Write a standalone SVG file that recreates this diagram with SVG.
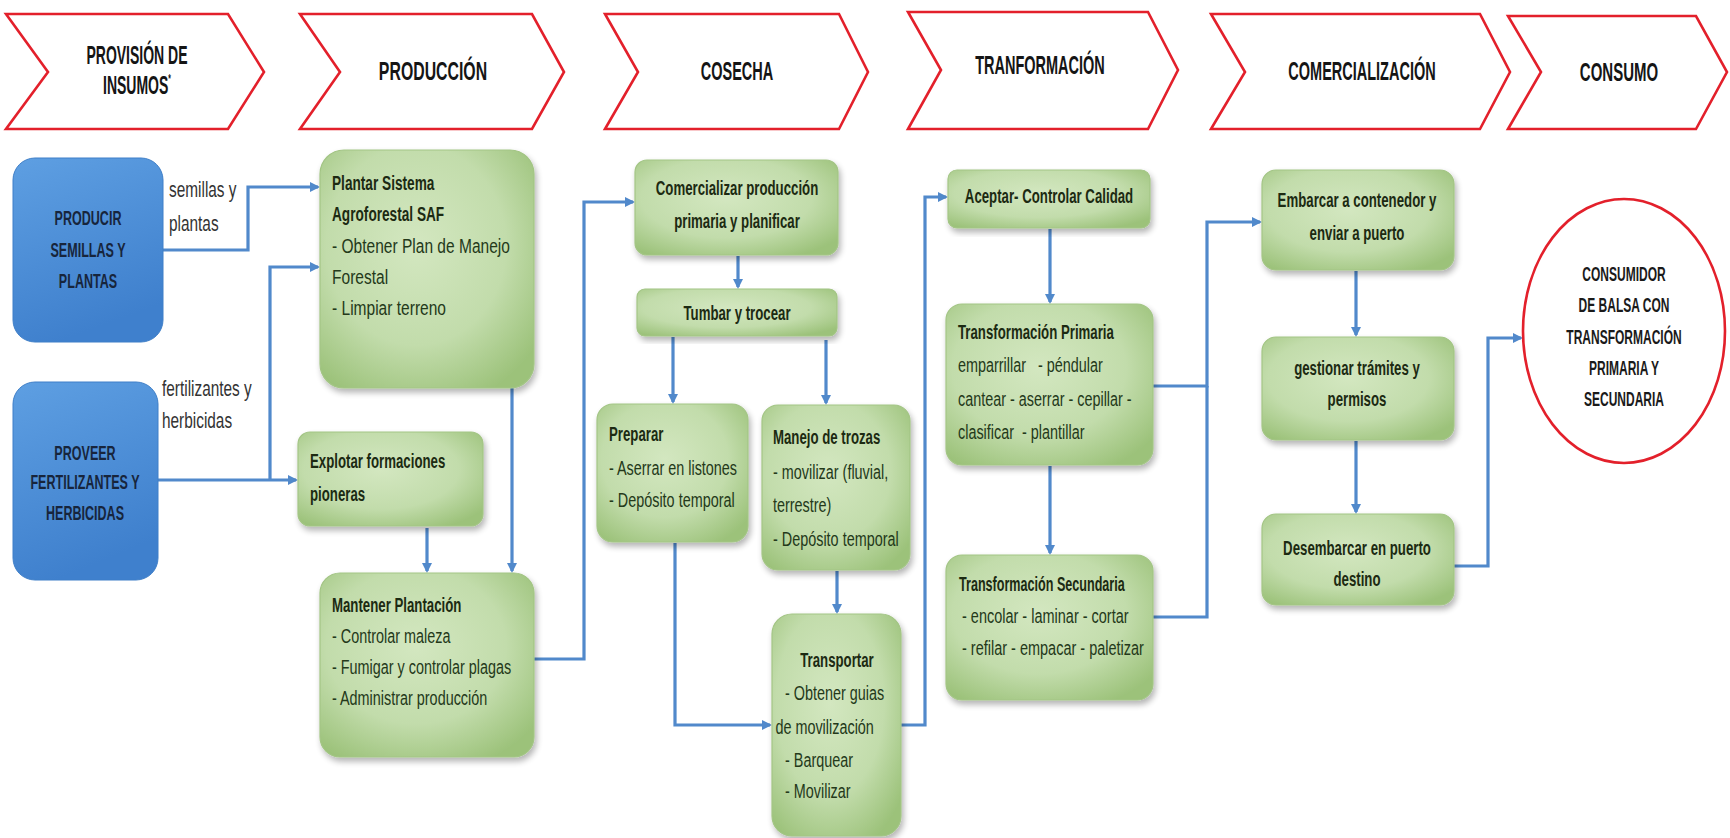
<svg xmlns="http://www.w3.org/2000/svg" width="1730" height="838" viewBox="0 0 1730 838">
  <defs>
    <style>
      text { font-family: "Liberation Sans", Arial, sans-serif; }
      .stage { fill: #ffffff; stroke: #e3202b; stroke-width: 2.6; stroke-linejoin: miter; }
      .h { font-size: 25px; font-weight: bold; fill: #151515; text-anchor: middle; }
      .box { fill: url(#green); stroke: #a3c585; stroke-width: 1.2; filter: url(#shadow); }
      .blue { fill: url(#blueFill); stroke: #3f7fc8; stroke-width: 1; }
      .bt { font-size: 21px; font-weight: bold; fill: #1c2a12; }
      .bd { font-size: 21px; fill: #24391a; }
      .c { text-anchor: middle; }
      .bl { font-size: 20px; font-weight: bold; fill: #17253c; text-anchor: middle; }
      .lb { font-size: 22px; fill: #333333; }
      .ct { font-size: 20px; font-weight: bold; fill: #1a1a1a; text-anchor: middle; }
      .wire { fill: none; stroke: #5189cb; stroke-width: 3.2; stroke-linejoin: miter; }
      .arr { marker-end: url(#tip); }
    </style>
    <radialGradient id="green" cx="45%" cy="40%" r="70%">
      <stop offset="0" stop-color="#d3e7c0"/>
      <stop offset="0.6" stop-color="#c2dcab"/>
      <stop offset="1" stop-color="#9cc27a"/>
    </radialGradient>
    <linearGradient id="blueFill" x1="0" y1="0" x2="0.3" y2="1">
      <stop offset="0" stop-color="#5e9fe2"/>
      <stop offset="1" stop-color="#3f80cd"/>
    </linearGradient>
    <filter id="shadow" x="-10%" y="-10%" width="125%" height="125%">
      <feGaussianBlur in="SourceAlpha" stdDeviation="3"/>
      <feOffset dx="2" dy="4" result="b"/>
      <feComponentTransfer><feFuncA type="linear" slope="0.3"/></feComponentTransfer>
      <feMerge><feMergeNode/><feMergeNode in="SourceGraphic"/></feMerge>
    </filter>
    <marker id="tip" markerWidth="10" markerHeight="10" refX="8" refY="5" orient="auto" markerUnits="userSpaceOnUse">
      <path d="M0,0 L10,5 L0,10 Z" fill="#5189cb"/>
    </marker>
  </defs>

  <rect width="1730" height="838" fill="#ffffff"/>

  <!-- value chain stages (chevrons) -->
  <g id="stage-provision">
    <polygon class="stage" points="6,14 228,14 264,72 228,129 6,129 48,72"/>
    <text class="h" transform="translate(137 0) scale(.56 1)"><tspan x="0" y="64">PROVISIÓN DE</tspan><tspan x="0" y="94">INSUMOS<tspan font-size="12" dy="-11">*</tspan></tspan></text>
  </g>
  <g id="stage-produccion">
    <polygon class="stage" points="300,14 532,14 564,72 532,129 300,129 340,72"/>
    <text class="h" transform="translate(433 0) scale(.634 1)"><tspan x="0" y="80">PRODUCCIÓN</tspan></text>
  </g>
  <g id="stage-cosecha">
    <polygon class="stage" points="605,14 839,14 868,72 839,129 605,129 638,72"/>
    <text class="h" transform="translate(737 0) scale(.58 1)"><tspan x="0" y="80">COSECHA</tspan></text>
  </g>
  <g id="stage-transformacion">
    <polygon class="stage" points="908,12 1148,12 1178,70 1148,129 908,129 941,70"/>
    <text class="h" transform="translate(1040 0) scale(.58 1)"><tspan x="0" y="74">TRANFORMACIÓN</tspan></text>
  </g>
  <g id="stage-comercializacion">
    <polygon class="stage" points="1211,14 1480,14 1510,72 1480,129 1211,129 1245,72"/>
    <text class="h" transform="translate(1362 0) scale(.58 1)"><tspan x="0" y="80">COMERCIALIZACIÓN</tspan></text>
  </g>
  <g id="stage-consumo">
    <polygon class="stage" points="1508,16 1696,16 1727,72 1696,129 1508,129 1541,72"/>
    <text class="h" transform="translate(1619 0) scale(.6 1)"><tspan x="0" y="81">CONSUMO</tspan></text>
  </g>

  <!-- connectors -->
  <g id="connectors">
    <path class="wire arr" d="M163,250 H248 V187 H318"/>
    <path class="wire arr" d="M158,480 H296"/>
    <path class="wire arr" d="M270,480 V267 H318"/>
    <path class="wire arr" d="M512,388 V571"/>
    <path class="wire arr" d="M427,528 V571"/>
    <path class="wire arr" d="M534,659 H584 V202 H633"/>
    <path class="wire arr" d="M738,256 V287"/>
    <path class="wire arr" d="M673,337 V402"/>
    <path class="wire arr" d="M826,340 V403"/>
    <path class="wire arr" d="M675,543 V725 H770"/>
    <path class="wire arr" d="M837,571 V612"/>
    <path class="wire arr" d="M901,725 H925 V197 H946"/>
    <path class="wire arr" d="M1050,229 V302"/>
    <path class="wire arr" d="M1050,466 V553"/>
    <path class="wire arr" d="M1153,386 H1207 V222 H1260"/>
    <path class="wire" d="M1153,617 H1207 V386"/>
    <path class="wire arr" d="M1356,271 V335"/>
    <path class="wire arr" d="M1356,441 V512"/>
    <path class="wire arr" d="M1454,566 H1488 V338 H1521"/>
    <text class="lb" transform="translate(169 0) scale(.7 1)"><tspan x="0" y="197">semillas y</tspan><tspan x="0" y="231">plantas</tspan></text>
    <text class="lb" transform="translate(162 0) scale(.7 1)"><tspan x="0" y="396">fertilizantes y</tspan><tspan x="0" y="428">herbicidas</tspan></text>
  </g>

  <!-- input providers -->
  <g id="producir-semillas">
    <rect class="blue" x="13" y="158" width="150" height="184" rx="22"/>
    <text class="bl" transform="translate(88 0) scale(.627 1)"><tspan x="0" y="225">PRODUCIR</tspan><tspan x="0" y="257">SEMILLAS Y</tspan><tspan x="0" y="288">PLANTAS</tspan></text>
  </g>
  <g id="proveer-fertilizantes">
    <rect class="blue" x="13" y="382" width="145" height="198" rx="22"/>
    <text class="bl" transform="translate(85 0) scale(.627 1)"><tspan x="0" y="460">PROVEER</tspan><tspan x="0" y="489">FERTILIZANTES Y</tspan><tspan x="0" y="520">HERBICIDAS</tspan></text>
  </g>

  <!-- production -->
  <g id="plantar-saf">
    <rect class="box" x="320" y="150" width="214" height="238" rx="24"/>
    <text class="bt" transform="translate(332 0) scale(.65 1)" font-size="23"><tspan x="0" y="190">Plantar Sistema</tspan><tspan x="0" y="221">Agroforestal SAF</tspan></text>
    <text class="bd" transform="translate(332 0) scale(.74 1)" font-size="23"><tspan x="0" y="253">- Obtener Plan de Manejo</tspan><tspan x="0" y="284">Forestal</tspan><tspan x="0" y="315">- Limpiar terreno</tspan></text>
  </g>
  <g id="explotar-pioneras">
    <rect class="box" x="298" y="432" width="185" height="94" rx="12"/>
    <text class="bt" transform="translate(310 0) scale(.63 1)"><tspan x="0" y="468">Explotar formaciones</tspan><tspan x="0" y="501">pioneras</tspan></text>
  </g>
  <g id="mantener-plantacion">
    <rect class="box" x="320" y="573" width="214" height="184" rx="20"/>
    <text class="bt" transform="translate(332 0) scale(.63 1)"><tspan x="0" y="612">Mantener Plantación</tspan></text>
    <text class="bd" transform="translate(332 0) scale(.686 1)"><tspan x="0" y="643">- Controlar maleza</tspan><tspan x="0" y="674">- Fumigar y controlar plagas</tspan><tspan x="0" y="705">- Administrar producción</tspan></text>
  </g>

  <!-- harvest -->
  <g id="comercializar-primaria">
    <rect class="box" x="635" y="160" width="203" height="95" rx="12"/>
    <text class="bt c" transform="translate(737 0) scale(.63 1)"><tspan x="0" y="195">Comercializar producción</tspan><tspan x="0" y="228">primaria y planificar</tspan></text>
  </g>
  <g id="tumbar-trocear">
    <rect class="box" x="637" y="289" width="200" height="47" rx="8"/>
    <text class="bt c" transform="translate(737 0) scale(.63 1)"><tspan x="0" y="320">Tumbar y trocear</tspan></text>
  </g>
  <g id="preparar">
    <rect class="box" x="597" y="404" width="151" height="138" rx="16"/>
    <text class="bt" transform="translate(609 0) scale(.63 1)"><tspan x="0" y="441">Preparar</tspan></text>
    <text class="bd" transform="translate(609 0) scale(.686 1)"><tspan x="0" y="475">- Aserrar en listones</tspan><tspan x="0" y="507">- Depósito temporal</tspan></text>
  </g>
  <g id="manejo-trozas">
    <rect class="box" x="762" y="405" width="148" height="165" rx="16"/>
    <text class="bt" transform="translate(773 0) scale(.63 1)"><tspan x="0" y="444">Manejo de trozas</tspan></text>
    <text class="bd" transform="translate(773 0) scale(.686 1)"><tspan x="0" y="479">- movilizar (fluvial,</tspan><tspan x="0" y="512">terrestre)</tspan><tspan x="0" y="546">- Depósito temporal</tspan></text>
  </g>
  <g id="transportar">
    <rect class="box" x="772" y="614" width="129" height="222" rx="20"/>
    <text class="bt c" transform="translate(837 0) scale(.63 1)"><tspan x="0" y="667">Transportar</tspan></text>
    <text class="bd" transform="translate(785 0) scale(.686 1)"><tspan x="0" y="700">- Obtener guias</tspan><tspan x="-14" y="734">de movilización</tspan><tspan x="0" y="767">- Barquear</tspan><tspan x="0" y="798">- Movilizar</tspan></text>
  </g>

  <!-- transformation -->
  <g id="aceptar-calidad">
    <rect class="box" x="948" y="170" width="202" height="58" rx="9"/>
    <text class="bt c" transform="translate(1049 0) scale(.63 1)"><tspan x="0" y="203">Aceptar- Controlar Calidad</tspan></text>
  </g>
  <g id="transformacion-primaria">
    <rect class="box" x="946" y="304" width="207" height="161" rx="16"/>
    <text class="bt" transform="translate(958 0) scale(.63 1)"><tspan x="0" y="339">Transformación Primaria</tspan></text>
    <text class="bd" transform="translate(958 0) scale(.686 1)"><tspan x="0" y="372" xml:space="preserve">emparrillar   - péndular</tspan><tspan x="0" y="406">cantear - aserrar - cepillar -</tspan><tspan x="0" y="439" xml:space="preserve">clasificar  - plantillar</tspan></text>
  </g>
  <g id="transformacion-secundaria">
    <rect class="box" x="946" y="555" width="207" height="145" rx="16"/>
    <text class="bt" transform="translate(959 0) scale(.6 1)"><tspan x="0" y="591">Transformación Secundaria</tspan></text>
    <text class="bd" transform="translate(962 0) scale(.69 1)"><tspan x="0" y="623">- encolar - laminar - cortar</tspan><tspan x="0" y="655">- refilar - empacar - paletizar</tspan></text>
  </g>

  <!-- commercialisation -->
  <g id="embarcar">
    <rect class="box" x="1262" y="170" width="192" height="100" rx="14"/>
    <text class="bt c" transform="translate(1357 0) scale(.63 1)"><tspan x="0" y="207">Embarcar a contenedor y</tspan><tspan x="0" y="240">enviar a puerto</tspan></text>
  </g>
  <g id="gestionar-tramites">
    <rect class="box" x="1262" y="337" width="192" height="103" rx="14"/>
    <text class="bt c" transform="translate(1357 0) scale(.63 1)"><tspan x="0" y="375">gestionar trámites y</tspan><tspan x="0" y="406">permisos</tspan></text>
  </g>
  <g id="desembarcar">
    <rect class="box" x="1262" y="514" width="192" height="91" rx="14"/>
    <text class="bt c" transform="translate(1357 0) scale(.63 1)"><tspan x="0" y="555">Desembarcar en puerto</tspan><tspan x="0" y="586">destino</tspan></text>
  </g>

  <!-- consumer -->
  <g id="consumidor">
    <ellipse cx="1624" cy="331" rx="101" ry="132" fill="#ffffff" stroke="#e3202b" stroke-width="2.6"/>
    <text class="ct" transform="translate(1624 0) scale(.6 1)"><tspan x="0" y="281">CONSUMIDOR</tspan><tspan x="0" y="312">DE BALSA CON</tspan><tspan x="0" y="344">TRANSFORMACIÓN</tspan><tspan x="0" y="375">PRIMARIA Y</tspan><tspan x="0" y="406">SECUNDARIA</tspan></text>
  </g>
</svg>
